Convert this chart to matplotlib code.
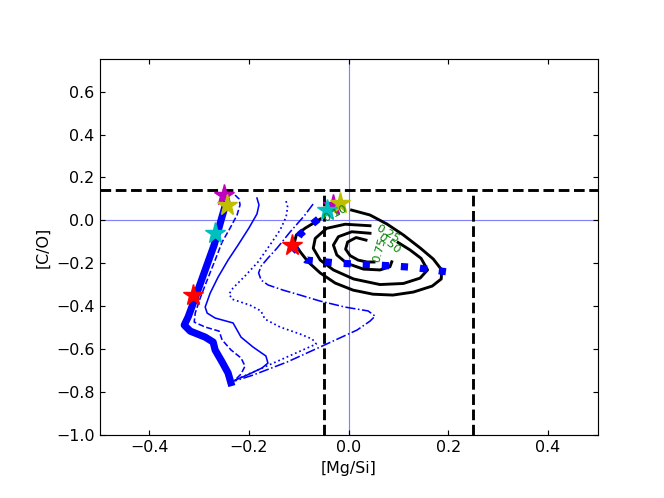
import matplotlib
matplotlib.use("Agg")
import matplotlib.pyplot as plt

# ---------------- data ----------------
# thick model track
thick_x = [-0.245, -0.256, -0.270, -0.288, -0.306, -0.322, -0.330, -0.318, -0.288, -0.272, -0.268, -0.254, -0.242, -0.2345]
thick_y = [0.090, 0.002, -0.115, -0.231, -0.348, -0.449, -0.488, -0.516, -0.544, -0.567, -0.604, -0.660, -0.711, -0.772]

# thin dashed track
dash_x = [-0.228, -0.220, -0.218, -0.224, -0.238, -0.254, -0.268, -0.284, -0.298, -0.308, -0.310, -0.288, -0.260, -0.254, -0.236, -0.216, -0.208, -0.216, -0.228]
dash_y = [0.118, 0.100, 0.072, 0.025, -0.036, -0.101, -0.185, -0.278, -0.362, -0.432, -0.474, -0.497, -0.516, -0.557, -0.604, -0.641, -0.679, -0.716, -0.744]

# thin solid track
solid_x = [-0.184, -0.180, -0.184, -0.200, -0.222, -0.242, -0.262, -0.278, -0.288, -0.284, -0.268, -0.232, -0.224, -0.216, -0.192, -0.166, -0.162, -0.174, -0.204, -0.228]
solid_y = [0.104, 0.072, 0.030, -0.035, -0.115, -0.185, -0.264, -0.339, -0.404, -0.432, -0.455, -0.478, -0.511, -0.544, -0.590, -0.632, -0.665, -0.688, -0.721, -0.744]

# thin dotted track
dot_x = [-0.1255, -0.1225, -0.1255, -0.1376, -0.158, -0.182, -0.208, -0.232, -0.240, -0.234, -0.198, -0.176, -0.168, -0.1376, -0.097, -0.073, -0.065, -0.228]
dot_y = [0.090, 0.062, 0.016, -0.045, -0.115, -0.194, -0.259, -0.315, -0.343, -0.367, -0.395, -0.422, -0.460, -0.497, -0.530, -0.553, -0.576, -0.744]

# thin dash-dot track
dd_x = [-0.0713, -0.0894, -0.1175, -0.1436, -0.1617, -0.1757, -0.1807, -0.1757, -0.1617, -0.1315, -0.0974, -0.0572, -0.007, 0.0392, 0.0532, 0.0432, 0.017, -0.0572, -0.1235, -0.192, -0.230]
dd_y = [0.076, 0.020, -0.054, -0.129, -0.175, -0.213, -0.245, -0.278, -0.301, -0.325, -0.348, -0.376, -0.404, -0.422, -0.446, -0.469, -0.511, -0.590, -0.660, -0.721, -0.749]

# thick dotted track
sq_x = [-0.031, -0.0693, -0.097, -0.1135, -0.085, -0.017, 0.058, 0.131, 0.204]
sq_y = [0.062, -0.010, -0.064, -0.120, -0.185, -0.200, -0.208, -0.219, -0.242]

# density contours (levels 0.10, 0.25, 0.50, 0.75)
c10_x = [0.006, 0.043, 0.077, 0.110, 0.144, 0.170, 0.187, 0.186, 0.168, 0.130, 0.089, 0.049, 0.009, -0.027, -0.057, -0.081, -0.097, -0.109, -0.105, -0.087, -0.057]
c10_y = [0.048, 0.025, -0.017, -0.068, -0.129, -0.180, -0.231, -0.273, -0.306, -0.334, -0.348, -0.344, -0.325, -0.292, -0.245, -0.194, -0.147, -0.105, -0.068, -0.036, 0.006]
c25_x = [0.043, -0.007, -0.044, -0.067, -0.071, -0.057, -0.0305, 0.010, 0.063, 0.110, 0.1436, 0.1586, 0.1456, 0.1235, 0.0994]
c25_y = [-0.025, -0.018, -0.037, -0.084, -0.130, -0.185, -0.231, -0.273, -0.299, -0.294, -0.269, -0.231, -0.177, -0.138, -0.103]
c50_x = [0.043, 0.0064, -0.0205, -0.0305, -0.0237, -0.0036, 0.0297, 0.063, 0.083, 0.0867]
c50_y = [-0.060, -0.053, -0.076, -0.115, -0.161, -0.200, -0.227, -0.231, -0.216, -0.193]
c75_x = [0.035, 0.015, -0.002, -0.006, 0.003, 0.019, 0.037, 0.051]
c75_y = [-0.092, -0.080, -0.101, -0.134, -0.164, -0.185, -0.194, -0.194]

level_text = ["0.10", "0.25", "0.50", "0.75"]
level_x = [-0.027, 0.079, 0.081, 0.062]
level_y = [0.033, -0.062, -0.110, -0.137]
level_rot = [27, -30, -39, 75]

# stars: (magenta, yellow, cyan, red) for the two tracks
star_colors = ["m", "y", "c", "r"]
starA_x = [-0.251, -0.2446, -0.268, -0.3116]
starA_y = [0.118, 0.072, -0.060, -0.348]
starB_x = [-0.0305, -0.017, -0.044, -0.114]
starB_y = [0.071, 0.079, 0.048, -0.115]

hline_y = 0.14
vline_x = [-0.05, 0.25]

xticks = [-0.4, -0.2, 0.0, 0.2, 0.4]
yticks = [-1.0, -0.8, -0.6, -0.4, -0.2, 0.0, 0.2, 0.4, 0.6]

# ---------------- plot ----------------
fig = plt.figure(figsize=(6.4, 4.8), dpi=103.75)
ax = fig.add_axes([0.15, 0.1265, 0.75, 0.7542])

ax.axhline(0, color="#8080ff", lw=0.8, zorder=1)
ax.axvline(0, color="#8080ff", lw=0.8, zorder=1)

ax.axhline(hline_y, color="k", ls="--", lw=2, zorder=2)
for vx in vline_x:
    ax.plot([vx, vx], [-1.0, hline_y], color="k", ls="--", lw=2, zorder=2)

ax.plot(thick_x, thick_y, color="b", lw=5, solid_capstyle="butt", zorder=3)
ax.plot(dash_x, dash_y, color="b", lw=1.1, ls="--", zorder=3)
ax.plot(solid_x, solid_y, color="b", lw=1.1, ls="-", zorder=3)
ax.plot(dot_x, dot_y, color="b", lw=1.2, ls=":", zorder=3)
ax.plot(dd_x, dd_y, color="b", lw=1.1, ls="-.", zorder=3)

for cx, cy in [(c10_x, c10_y), (c25_x, c25_y), (c50_x, c50_y), (c75_x, c75_y)]:
    ax.plot(cx, cy, color="k", lw=2, zorder=4)

ax.plot(sq_x, sq_y, color="b", lw=5, ls=":", zorder=5)

for sx, sy in [(starA_x, starA_y), (starB_x, starB_y)]:
    for c, x, y in zip(star_colors, sx, sy):
        ax.plot([x], [y], marker="*", ms=15, color=c, mec=c, ls="none", zorder=6)

for t, x, y, r in zip(level_text, level_x, level_y, level_rot):
    ax.text(x, y, t, color="green", fontsize=8, rotation=r,
            ha="center", va="center", rotation_mode="anchor", zorder=7)

ax.set_xlim(-0.5, 0.5)
ax.set_ylim(-1.0, 0.75)
ax.set_xticks(xticks)
ax.set_yticks(yticks)
ax.tick_params(direction="in", top=True, right=True, labelsize=11)
ax.set_xlabel("[Mg/Si]", fontsize=11)
ax.set_ylabel("[C/O]", fontsize=11)

fig.savefig("out.png", dpi=103.75)
